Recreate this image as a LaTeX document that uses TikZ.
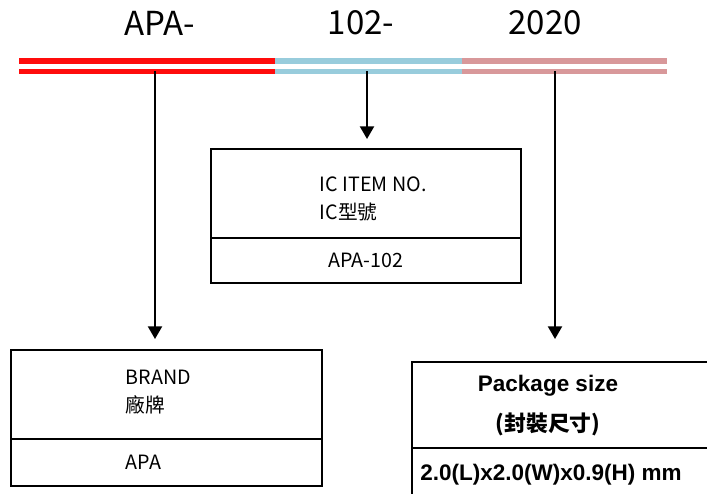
\documentclass[tikz,border=0pt]{standalone}
\usepackage{fontspec}
\setmainfont{Noto Sans CJK TC}
\newfontfamily\arialfont{Liberation Sans}
\usepackage{xcolor}
\usetikzlibrary{arrows.meta}

\definecolor{barred}{RGB}{255,12,12}
\definecolor{barblue}{RGB}{152,204,220}
\definecolor{barpink}{RGB}{216,152,154}

\tikzset{
  codebox/.style={draw, line width=1.4pt, anchor=north west, inner sep=0pt},
  bar/.style={line width=3.6pt},
  pointer/.style={line width=1.4pt, -{Triangle[width=10pt,length=9pt]}}
}

\begin{document}
\begin{tikzpicture}[x=0.025cm, y=-0.025cm]
  \useasboundingbox (0,0) rectangle (707,493);
  \clip (0,0) rectangle (707,493);

  % code parts
  \node (apa) at (160,23) {\fontsize{23.5}{26}\selectfont APA-};
  \node (num) at (361,23) {\fontsize{23.5}{26}\selectfont 102-};
  \node (year) at (545,23) {\fontsize{23.5}{26}\selectfont 2020};

  % double bars
  \foreach \y in {61,71.5} {
    \draw[bar, barred] (19,\y) -- (275,\y);
    \draw[bar, barblue] (275,\y) -- (462,\y);
    \draw[bar, barpink] (462,\y) -- (667,\y);
  }

  \coordinate (sa) at (155,71);
  \coordinate (sb) at (367,71);
  \coordinate (sc) at (555,71);
  \coordinate (ta) at (155,339);
  \coordinate (tb) at (367,139);
  \coordinate (tc) at (555,339);

  % boxes
  \node[codebox, minimum width=7.75cm, minimum height=3.35cm] (ic) at (210,148) {};
  \draw[line width=1.4pt] (210,238) -- (520,238);
  \node[anchor=west] (icname) at (315,184) {\fontsize{14}{16}\selectfont IC ITEM NO.};
  \node[anchor=west] (iczh) at (315,212) {\fontsize{14}{16}\selectfont IC型號};
  \node (icval) at (366,260) {\fontsize{14}{16}\selectfont APA-102};

  \node[codebox, minimum width=7.775cm, minimum height=3.4cm] (brand) at (10,349) {};
  \draw[line width=1.4pt] (10,439) -- (321,439);
  \node[anchor=west] (brname) at (121,377) {\fontsize{14}{16}\selectfont BRAND};
  \node[anchor=west] (brzh) at (121,405) {\fontsize{14}{16}\selectfont 廠牌};
  \node[anchor=west] (brval) at (121,462) {\fontsize{14}{16}\selectfont APA};

  \node[codebox, minimum width=7.75cm, minimum height=3.7cm] (pkg) at (411,361) {};
  \draw[line width=1.4pt] (411,448) -- (720,448);
  \node (pkname) at (548,386) {\arialfont\bfseries\fontsize{16}{18}\selectfont Package size};
  \node (pkzh) at (548,424) {\bfseries\fontsize{15.5}{18}\selectfont (封裝尺寸)};
  \node (pkval) at (551,475) {\arialfont\bfseries\fontsize{16}{18}\selectfont 2.0(L)x2.0(W)x0.9(H) mm};

  % pointers
  \draw[pointer] (sa) -- (ta);
  \draw[pointer] (sb) -- (tb);
  \draw[pointer] (sc) -- (tc);
\end{tikzpicture}
\end{document}
